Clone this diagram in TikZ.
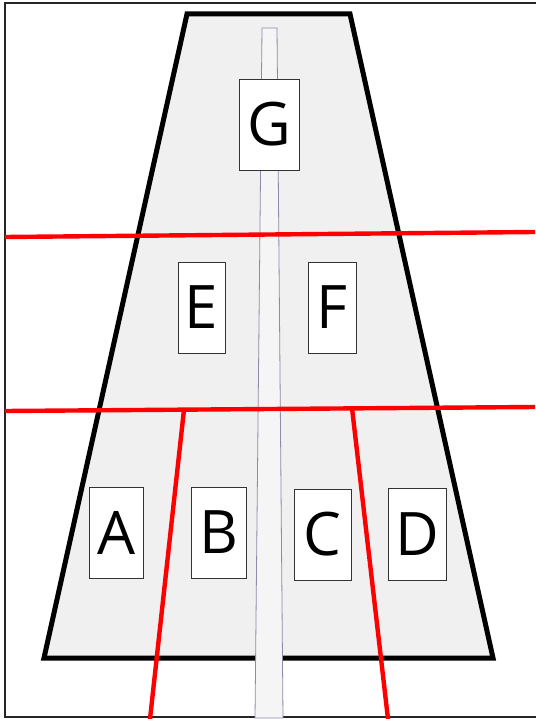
\documentclass[tikz,border=0pt]{standalone}
\usepackage{fontspec}
\setmainfont{Open Sans}
\begin{document}
\begin{tikzpicture}[x=1pt,y=-1pt,
  lbl/.style={draw=black!80,line width=0.8pt,fill=white,inner sep=0pt,
    font=\fontsize{60}{62}\selectfont},
  redline/.style={draw=red,line width=4.4pt},
  frame/.style={draw=black!85,line width=2pt}]
\useasboundingbox (0,0) rectangle (535,719);
% outer frame
\draw[frame] (540,3) -- (5,3) -- (5,717) -- (540,717);
% trapezoid
\coordinate (tl) at (187,14);
\coordinate (tr) at (350,14);
\coordinate (br) at (493,658);
\coordinate (bl) at (44,658);
\draw[line width=5pt,fill=black!6,line join=miter] (tl) -- (tr) -- (br) -- (bl) -- cycle;
% central strip
\coordinate (s1) at (262,28);
\coordinate (s2) at (277,28);
\coordinate (s3) at (283,718);
\coordinate (s4) at (255,718);
\draw[draw=blue!25!black!45,line width=0.8pt,fill=black!4] (s1) -- (s2) -- (s3) -- (s4) -- cycle;
% red lines
\coordinate (r1a) at (5,237);
\coordinate (r1b) at (535,232);
\coordinate (r2a) at (5,411);
\coordinate (r2b) at (535,407);
\coordinate (d1a) at (184,409.5);
\coordinate (d1b) at (150,719);
\coordinate (d2a) at (352,408);
\coordinate (d2b) at (388,719);
\draw[redline] (r1a) -- (r1b);
\draw[redline] (r2a) -- (r2b);
\draw[redline] (d1a) -- (d1b);
\draw[redline] (d2a) -- (d2b);
% labels
\node[lbl,minimum width=60pt,minimum height=91pt] (G) at (269,124.5) {G};
\node[lbl,minimum width=47pt,minimum height=91pt] (E) at (201.5,307.5) {E};
\node[lbl,minimum width=48pt,minimum height=91pt] (F) at (332,307.5) {F};
\node[lbl,minimum width=54pt,minimum height=91pt] (A) at (116,532.5) {A};
\node[lbl,minimum width=55pt,minimum height=91pt] (B) at (218.5,532.5) {B};
\node[lbl,minimum width=57pt,minimum height=91pt] (C) at (322.5,534.5) {C};
\node[lbl,minimum width=58pt,minimum height=92pt] (D) at (417,534) {D};
\end{tikzpicture}
\end{document}
